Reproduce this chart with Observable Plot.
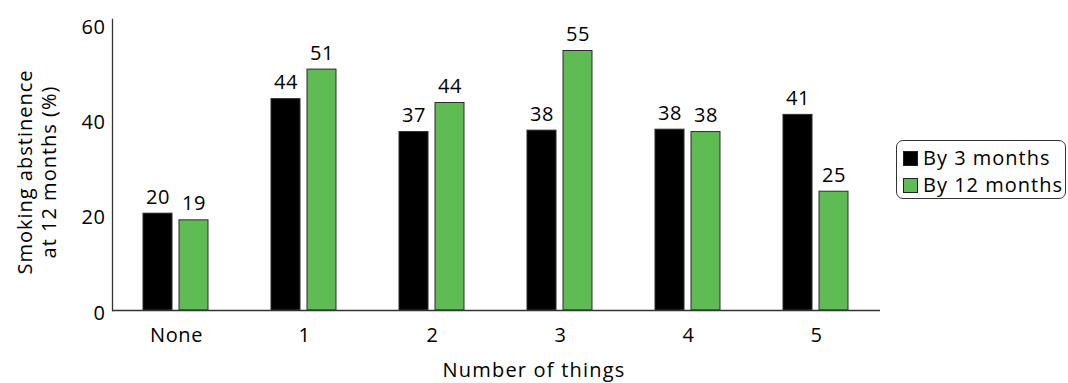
<!DOCTYPE html>
<html><head><meta charset="utf-8">
<script src="https://cdn.jsdelivr.net/npm/d3@7"></script>
<script src="https://cdn.jsdelivr.net/npm/@observablehq/plot@0.6"></script>
<style>
body{margin:0;background:#fff;font-family:"Open Sans",sans-serif;color:#000;}
#wrap{position:relative;width:1068px;height:383px;overflow:hidden;}
.ylab{position:absolute;left:-112.8px;top:147.5px;width:300px;height:48px;line-height:24px;font-size:20px;letter-spacing:1px;text-align:center;transform:rotate(-90deg);transform-origin:150px 24px;white-space:nowrap;}
.xlab{position:absolute;left:0;top:360px;width:1068px;text-align:center;font-size:20px;line-height:20px;letter-spacing:1.2px;}
#legend{position:absolute;left:896px;top:140px;width:170px;height:59px;border:1.3px solid #333;border-radius:7px;box-sizing:border-box;}
.item{position:absolute;left:6px;font-size:20px;line-height:20px;letter-spacing:1px;white-space:nowrap;}
.sw{display:inline-block;width:13px;height:13px;border:1px solid #222;margin-right:5px;vertical-align:-1px;}
</style></head><body><div id="wrap"></div>
<script>
const categories = ["None", "1", "2", "3", "4", "5"];
const series = ["By 3 months", "By 12 months"];
const by3 = [20.3, 44.3, 37.4, 37.7, 37.9, 41.0];
const by12 = [18.9, 50.5, 43.5, 54.4, 37.4, 24.9];
const labels3 = ["20", "44", "37", "38", "38", "41"];
const labels12 = ["19", "51", "44", "55", "38", "25"];
const yTicks = [0, 20, 40, 60];
const colors = ["#000000", "#5fbb53"];
const xTitle = "Number of things";
const yTitle = ["Smoking abstinence", "at 12 months (%)"];

const data = categories.flatMap((c, i) => [
  {cat: c, s: series[0], v: by3[i], t: labels3[i]},
  {cat: c, s: series[1], v: by12[i], t: labels12[i]}
]);

const chart = Plot.plot({
  width: 1068, height: 383,
  marginLeft: 112, marginRight: 188, marginTop: 19, marginBottom: 73,
  style: {fontFamily: "Open Sans", fontSize: "20px", color: "#000", background: "#fff", letterSpacing: "0.6px"},
  fx: {domain: categories, padding: 0, label: null, axis: "bottom", tickSize: 0, tickPadding: 17},
  x: {domain: series, paddingInner: 0.19, paddingOuter: 0.84, axis: null},
  y: {domain: [0, 61], label: null},
  color: {domain: series, range: colors},
  marks: [
    Plot.barY(data, {fx: "cat", x: "s", y: "v", fill: "s", stroke: "#2a2a2a", strokeWidth: 1}),
    Plot.text(data, {fx: "cat", x: "s", y: "v", text: "t", lineAnchor: "bottom", dy: -10, fill: "#000"}),
    Plot.ruleY([0], {stroke: "#333", strokeWidth: 1.3}),
    Plot.frame({anchor: "left", facetAnchor: "left", stroke: "#333", strokeWidth: 1.3}),
    Plot.axisY(yTicks, {tickSize: 0, tickPadding: 7, dy: 3, label: null})
  ]
});
const wrap = document.getElementById("wrap");
wrap.appendChild(chart);

const yl = document.createElement("div");
yl.className = "ylab";
yl.innerHTML = yTitle.join("<br>");
wrap.appendChild(yl);

const xl = document.createElement("div");
xl.className = "xlab";
xl.textContent = xTitle;
wrap.appendChild(xl);

const lg = document.createElement("div");
lg.id = "legend";
series.forEach((s, i) => {
  const it = document.createElement("div");
  it.className = "item";
  it.style.top = (7 + i * 27) + "px";
  const sw = document.createElement("span");
  sw.className = "sw";
  sw.style.background = colors[i];
  it.appendChild(sw);
  it.appendChild(document.createTextNode(s));
  lg.appendChild(it);
});
wrap.appendChild(lg);
</script></body></html>
